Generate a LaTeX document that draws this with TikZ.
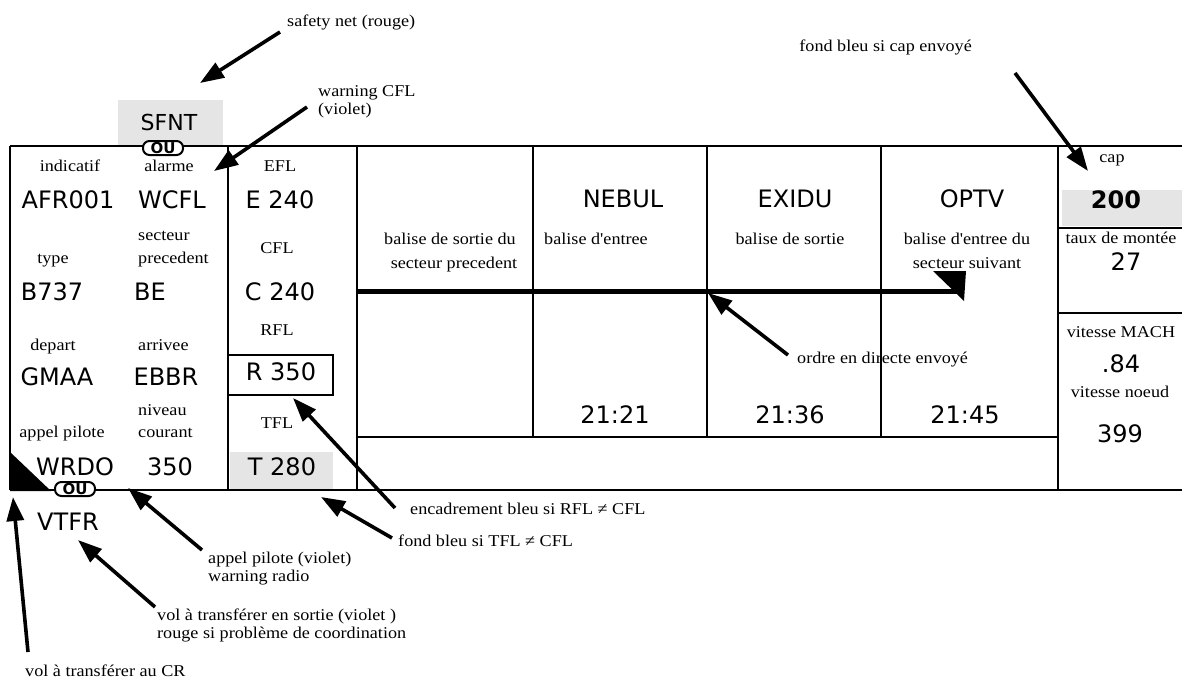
\documentclass[tikz,border=0pt]{standalone}
\usepackage{fontspec}
\setmainfont{Liberation Serif}[FakeStretch=1.1, Ligatures=TeXOff]
\newfontfamily\valfont{DejaVu Sans}
\usetikzlibrary{arrows.meta}
\begin{document}
\begin{tikzpicture}[x=1pt,y=-1pt,
  lab/.style={font=\fontsize{16.5}{18}\selectfont, inner sep=0pt, anchor=base},
  labw/.style={lab, anchor=base west},
  labe/.style={lab, anchor=base east},
  val/.style={font=\valfont\fontsize{24}{26}\selectfont, inner sep=0pt, anchor=base},
  rule/.style={line width=2pt},
  frame/.style={line width=2.4pt},
  ptr/.style={line width=3.6pt, -{Triangle[length=24pt,width=17pt]}},
  pill/.style={draw, line width=2pt, rounded corners=6.5pt, fill=white,
    font=\valfont\bfseries\fontsize{15}{15}\selectfont, inner xsep=2pt, inner ysep=0pt,
    minimum height=14pt, minimum width=40pt},
  greybg/.style={fill=gray!20, draw=none}
]
\useasboundingbox (0,0) rectangle (1182,682);
% grey backgrounds
\fill[greybg] (118,100) rectangle (223,145);
\fill[greybg] (1062,190) rectangle (1182,226);
\fill[greybg] (230,452) rectangle (333,489);
% frame
\draw[frame] (10,146) -- (1182,146);
\draw[frame] (10,490) -- (1182,490);
\draw[frame] (10,146) -- (10,490);
\draw[rule] (228,146) -- (228,490);
\draw[rule] (357,146) -- (357,490);
\draw[rule] (533,146) -- (533,437);
\draw[rule] (707,146) -- (707,437);
\draw[rule] (881,146) -- (881,437);
\draw[rule] (1058,146) -- (1058,490);
\draw[rule] (357,437) -- (1058,437);
\draw[rule] (1058,228) -- (1182,228);
\draw[rule] (1058,313) -- (1182,313);
\draw[rule] (228,355) rectangle (333,395);
% corner triangle
\fill (10,452) -- (10,491) -- (51,491) -- cycle;
% thick direct-order line
\coordinate (ordA) at (357,291);
\coordinate (ordB) at (962,291);
\draw[line width=5pt] (ordA) -- (ordB);
\fill (933,271) -- (966,271) -- (964,301) -- cycle;

% left block
\node[lab] (indicatif) at (70,171) {indicatif};
\node[lab] (alarme) at (169,171) {alarme};
\node[val] (afr) at (68,208) {AFR001};
\node[val] (wcfl) at (172,208) {WCFL};
\node[labw] (secteur) at (138,240) {secteur};
\node[lab] (type) at (53,263) {type};
\node[labw] (precedent) at (138,263) {precedent};
\node[val] (b737) at (52,300) {B737};
\node[val] (be) at (150,300) {BE};
\node[lab] (depart) at (53,350) {depart};
\node[labw] (arrivee) at (138,350) {arrivee};
\node[val] (gmaa) at (57,385) {GMAA};
\node[val] (ebbr) at (166,385) {EBBR};
\node[labw] (niveau) at (138,415) {niveau};
\node[labw] (courant) at (138,437) {courant};
\node[lab] (appel) at (62,437) {appel pilote};
\node[val] (wrdo) at (75,475) {WRDO};
\node[val] (n350) at (170,475) {350};
% flight levels
\node[lab] (efl) at (280,171) {EFL};
\node[val] (e240) at (280,208) {E 240};
\node[lab] (cfl) at (277,253) {CFL};
\node[val] (c240) at (280,300) {C 240};
\node[lab] (rfl) at (277,335) {RFL};
\node[val] (r350) at (281,380) {R 350};
\node[lab] (tfl) at (277,428) {TFL};
\node[val] (t280) at (282,475) {T 280};
% SFNT / OU / VTFR
\node[val, font=\valfont\fontsize{22}{24}\selectfont] (sfnt) at (169,130) {SFNT};
\node[pill] (ou1) at (163,148) {OU};
\node[pill] (ou2) at (75,489) {OU};
\node[val] (vtfr) at (68,530) {VTFR};
% middle cells
\node[val] (nebul) at (623,207) {NEBUL};
\node[val] (exidu) at (795,207) {EXIDU};
\node[val] (optv) at (972,207) {OPTV};
\node[lab] (bs1) at (450,244) {balise de sortie du};
\node[lab] (bs2) at (454,268) {secteur precedent};
\node[lab] (be1) at (596,244) {balise d'entree};
\node[lab] (bso) at (790,244) {balise de sortie};
\node[lab] (bes1) at (967,244) {balise d'entree du};
\node[lab] (bes2) at (967,268) {secteur suivant};
\node[val] (t1) at (615,423) {21:21};
\node[val] (t2) at (790,423) {21:36};
\node[val] (t3) at (965,423) {21:45};
% right column
\node[lab] (cap) at (1112,162) {cap};
\node[val, font=\valfont\bfseries\fontsize{24}{26}\selectfont] (c200) at (1116,208) {200};
\node[lab] (taux) at (1121,243) {taux de montée};
\node[val] (v27) at (1126,270) {27};
\node[lab] (vmach) at (1121,337) {vitesse MACH};
\node[val] (v84) at (1121,372) {.84};
\node[lab] (vnoeud) at (1120,397) {vitesse noeud};
\node[val] (v399) at (1120,442) {399};

% annotations
\node[labw] (asafety) at (287,27) {safety net (rouge)};
\node[labw] (awcfl1) at (318,97) {warning CFL};
\node[labw] (awcfl2) at (318,114) {(violet)};
\node[labe] (acap) at (972,52) {fond bleu si cap envoyé};
\node[labw] (aordre) at (797,363) {ordre en directe envoyé};
\node[labw] (aenc) at (410,514) {encadrement bleu si RFL ≠ CFL};
\node[labw] (afond) at (398,546) {fond bleu si TFL ≠ CFL};
\node[labw] (aappel1) at (208,563) {appel pilote (violet)};
\node[labw] (aappel2) at (208,581) {warning radio};
\node[labw] (avol1) at (157,620) {vol à transférer en sortie (violet )};
\node[labw] (avol2) at (157,638) {rouge si problème de coordination};
\node[labw] (acr) at (25,676) {vol à transférer au CR};

% arrow ends
\coordinate (sA) at (280,32);   \coordinate (sB) at (200,83);
\coordinate (wA) at (307,107);  \coordinate (wB) at (214,171);
\coordinate (cA) at (1015,73);  \coordinate (cB) at (1088,171);
\coordinate (oA) at (788,355);  \coordinate (oB) at (708,293);
\coordinate (rA) at (395,508);  \coordinate (rB) at (293,398);
\coordinate (fA) at (392,538);  \coordinate (fB) at (321,497);
\coordinate (pA) at (202,550);  \coordinate (pB) at (128,488);
\coordinate (vA) at (155,607);  \coordinate (vB) at (78,540);
\coordinate (kA) at (28,652);   \coordinate (kB) at (13,497);
\foreach \a/\b in {sA/sB,wA/wB,cA/cB,oA/oB,rA/rB,fA/fB,pA/pB,vA/vB,kA/kB}
  \draw[ptr] (\a) -- (\b);
\end{tikzpicture}
\end{document}
